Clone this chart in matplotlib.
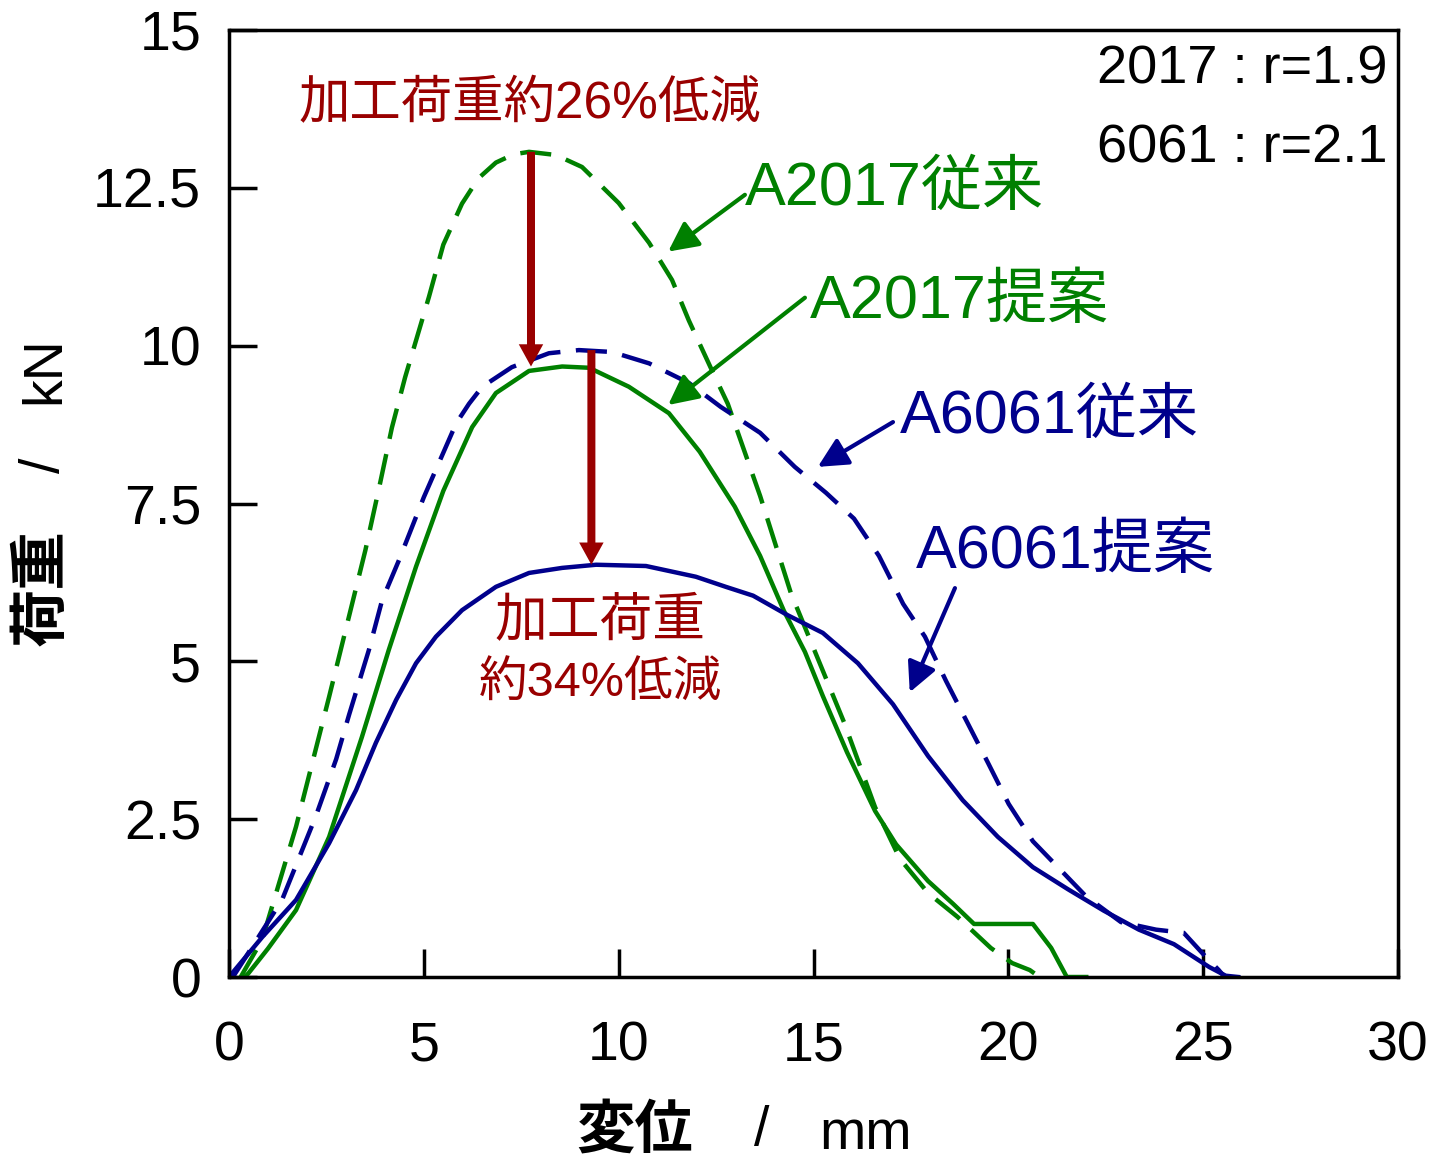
import matplotlib
matplotlib.use("Agg")
import matplotlib.pyplot as plt
import numpy as np

# 変位 [mm] / 荷重 [kN]
a2017_conv_x = [0.3, 0.85, 1.72, 2.57, 3.5, 3.87, 4.18, 4.52, 5.13, 5.5, 5.98, 6.4, 6.85, 7.3,
                7.7, 8.39, 9.06, 10.0, 10.78, 11.37, 11.8, 12.4, 12.8, 13.63, 14.42, 14.96,
                15.78, 16.58, 17.22, 17.94, 18.7, 19.55, 20.1, 20.55, 20.8]
a2017_conv_y = [0.0, 0.59, 2.38, 4.44, 6.76, 7.8, 8.7, 9.5, 10.77, 11.6, 12.25, 12.65, 12.9,
                13.03, 13.07, 13.02, 12.83, 12.26, 11.63, 11.04, 10.4, 9.6, 9.08, 7.62, 6.08,
                5.27, 4.04, 2.69, 1.87, 1.33, 0.95, 0.46, 0.22, 0.11, 0.0]

a2017_prop_x = [0.4, 0.5, 1.0, 1.72, 2.57, 3.41, 4.1, 4.8, 5.5, 6.24, 6.85, 7.7, 8.55, 9.24,
                10.26, 11.29, 12.08, 12.98, 13.63, 14.24, 14.78, 15.24, 15.86, 16.58,
                17.12, 17.94, 18.58, 19.12, 20.63, 21.1, 21.5, 22.0]
a2017_prop_y = [0.0, 0.06, 0.45, 1.06, 2.22, 3.8, 5.18, 6.5, 7.7, 8.71, 9.25, 9.6, 9.67, 9.65,
                9.35, 8.93, 8.32, 7.45, 6.67, 5.8, 5.15, 4.45, 3.56, 2.63,
                2.1, 1.52, 1.16, 0.84, 0.84, 0.46, 0.0, 0.0]

a6061_conv_x = [0.1, 0.33, 1.36, 2.23, 2.75, 3.08, 3.59, 3.93, 4.36, 5.0, 5.83, 6.16, 6.5, 7.26,
                8.21, 8.98, 9.83, 10.78, 11.8, 12.62, 13.63, 14.52, 15.32, 16.04, 16.68,
                17.3, 17.86, 18.4, 18.94, 19.48, 20.01, 20.63, 21.35, 21.99, 22.89, 23.79,
                24.5, 25.05, 25.4, 25.55]
a6061_conv_y = [0.0, 0.22, 1.22, 2.55, 3.45, 4.15, 5.18, 5.97, 6.6, 7.6, 8.77, 9.08, 9.35, 9.66,
                9.88, 9.93, 9.9, 9.72, 9.41, 9.03, 8.62, 8.08, 7.67, 7.26, 6.67,
                5.91, 5.39, 4.69, 4.04, 3.39, 2.74, 2.15, 1.69, 1.28, 0.87, 0.75,
                0.7, 0.33, 0.11, 0.0]

a6061_prop_x = [0.0, 0.85, 1.72, 2.57, 3.26, 3.77, 4.29, 4.8, 5.31, 5.98, 6.85, 7.7, 8.55,
                9.42, 10.7, 11.98, 12.75, 13.45, 14.34, 15.24, 16.14, 17.04, 17.94, 18.83,
                19.73, 20.63, 21.53, 22.45, 23.35, 24.25, 25.15, 25.58, 25.9]
a6061_prop_y = [0.0, 0.63, 1.22, 2.12, 2.96, 3.71, 4.39, 4.97, 5.39, 5.81, 6.18, 6.4, 6.48,
                6.53, 6.51, 6.34, 6.18, 6.04, 5.73, 5.45, 4.97, 4.32, 3.5, 2.8,
                2.22, 1.74, 1.39, 1.05, 0.75, 0.52, 0.16, 0.02, 0.0]

x_ticks = [0, 5, 10, 15, 20, 25, 30]
y_ticks = [0, 2.5, 5, 7.5, 10, 12.5, 15]
y_tick_labels = ["0", "2.5", "5", "7.5", "10", "12.5", "15"]

GREEN = "#008000"
BLUE = "#00008c"
RED = "#990000"
FONTS = ["Liberation Sans", "Noto Sans CJK JP", "DejaVu Sans"]

plt.rcParams["font.family"] = FONTS

W, H = 1436, 1159
fig = plt.figure(figsize=(W / 100, H / 100), dpi=100)
ax = fig.add_axes([229 / W, 182 / H, 1169 / W, 947 / H])


def px(x, y):
    # pixel position -> figure fraction
    return x / W, 1 - y / H


dash = (0, (7, 3.5))
ax.plot(a2017_conv_x, a2017_conv_y, color=GREEN, lw=3.2, ls=dash)
ax.plot(a6061_conv_x, a6061_conv_y, color=BLUE, lw=3.2, ls=dash)
ax.plot(a2017_prop_x, a2017_prop_y, color=GREEN, lw=3.2)
ax.plot(a6061_prop_x, a6061_prop_y, color=BLUE, lw=3.2)

ax.set_xlim(0, 30)
ax.set_ylim(0, 15)
ax.set_xticks(x_ticks)
ax.set_yticks(y_ticks)
ax.set_yticklabels(y_tick_labels)
ax.tick_params(direction="in", length=20, width=2.5, labelsize=40)
ax.tick_params(axis="x", pad=31)
ax.tick_params(axis="y", pad=20)
for s in ax.spines.values():
    s.set_linewidth(2.5)

# axis titles (CJK part bold, unit part regular)
fig.text(*px(635, 1132), "変位", fontsize=42, fontweight="bold", ha="center", va="center")
fig.text(*px(762, 1131), "/", fontsize=40, ha="center", va="center")
fig.text(*px(866, 1135), "mm", fontsize=40, ha="center", va="center")
fig.text(*px(43, 588), "荷重", fontsize=42, fontweight="bold", rotation=90,
         ha="center", va="center")
fig.text(*px(45, 465), "/", fontsize=40, rotation=90, ha="center", va="center")
fig.text(*px(45, 370), "kN", fontsize=40, rotation=90, ha="center", va="center")

# reduction arrows, peak to peak
red_style = "simple,head_length=1.0,head_width=1.1,tail_width=0.36"
ax.annotate("", xy=(7.75, max(a2017_prop_y)), xytext=(7.75, max(a2017_conv_y)),
            arrowprops=dict(arrowstyle=red_style, color=RED, lw=0,
                            mutation_scale=16, shrinkA=0, shrinkB=0))
ax.annotate("", xy=(9.3, max(a6061_prop_y)), xytext=(9.3, max(a6061_conv_y)),
            arrowprops=dict(arrowstyle=red_style, color=RED, lw=0,
                            mutation_scale=16, shrinkA=0, shrinkB=0))

ax.text(7.72, 13.81, "加工荷重約26%低減", color=RED, fontsize=37,
        ha="center", va="center")
ax.text(9.52, 5.62, "加工荷重", color=RED, fontsize=38, ha="center", va="center")
ax.text(9.52, 4.63, "約34%低減", color=RED, fontsize=35, ha="center", va="center")

# curve labels with pointer arrows
labels = [
    ("A2017従来", GREEN, (13.24, 12.47), (13.24, 12.39), (11.27, 11.49)),
    ("A2017提案", GREEN, (14.91, 10.69), (14.78, 10.76), (11.27, 9.06)),
    ("A6061従来", BLUE, (17.22, 8.87), (17.04, 8.79), (15.11, 8.08)),
    ("A6061提案", BLUE, (17.63, 6.73), (18.63, 6.16), (17.47, 4.51)),
]
for txt, col, tpos, tail, head in labels:
    ax.text(tpos[0], tpos[1], txt, color=col, fontsize=44, ha="left", va="center")
    ax.annotate("", xy=head, xytext=tail,
                arrowprops=dict(arrowstyle="-|>,head_length=0.9,head_width=0.45",
                                color=col, lw=3, mutation_scale=20,
                                shrinkA=0, shrinkB=0))

ax.text(29.74, 14.37, "2017 : r=1.9", fontsize=39, ha="right", va="center")
ax.text(29.74, 13.13, "6061 : r=2.1", fontsize=39, ha="right", va="center")

fig.savefig("out.png", dpi=100)
